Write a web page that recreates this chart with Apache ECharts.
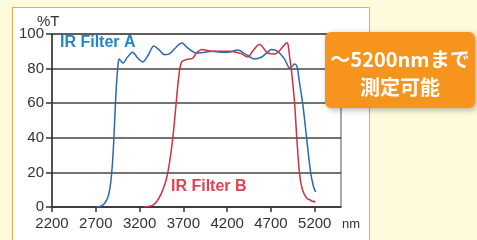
<!DOCTYPE html>
<html>
<head>
<meta charset="utf-8">
<script src="https://cdn.jsdelivr.net/npm/echarts@6/dist/echarts.min.js"></script>
<style>
  html, body { margin: 0; padding: 0; background: #fffadb; }
  #chart { width: 477px; height: 240px; }
</style>
</head>
<body>
<div id="chart"></div>
<script>
// wavelength (nm) / transmittance (%T)
var filterA = [
  [2700, 0], [2750, 0.3], [2800, 2], [2840, 6], [2870, 14], [2890, 25], [2905, 38],
  [2920, 55], [2935, 70], [2950, 80], [2965, 85.5], [2985, 84.5], [3010, 83.2],
  [3060, 86.5], [3120, 89.5], [3180, 86], [3237, 83.8], [3300, 88], [3363, 93],
  [3420, 91], [3488, 88], [3545, 88.6], [3620, 92.5], [3682, 94.8], [3760, 91.5],
  [3850, 89], [3950, 89.5], [4035, 90], [4130, 89.5], [4229, 89.6], [4320, 90.8],
  [4423, 87.9], [4514, 85.5], [4594, 86.7], [4650, 89], [4708, 91], [4776, 90],
  [4856, 85.5], [4913, 80.3], [4945, 81.5], [4970, 82.7], [4990, 82], [5004, 80],
  [5020, 74], [5062, 60], [5107, 40], [5153, 20], [5185, 12], [5210, 8.7]
]
var filterB = [
  [3250, 0], [3300, 0.3], [3350, 1], [3400, 3.5], [3450, 8], [3500, 15], [3530, 22],
  [3560, 32], [3590, 45], [3614, 58], [3640, 72], [3660, 80], [3682, 84], [3720, 85],
  [3760, 85.5], [3807, 86], [3850, 89], [3910, 91], [3970, 90.5], [4035, 90],
  [4130, 90], [4229, 90], [4300, 89.5], [4366, 88.5], [4434, 86.7], [4490, 90],
  [4548, 93.5], [4575, 94], [4620, 91.5], [4662, 89], [4742, 88.4], [4800, 90.5],
  [4850, 93.5], [4880, 95], [4895, 94], [4913, 87], [4936, 78], [4970, 60],
  [4995, 40], [5025, 20], [5060, 10], [5110, 5], [5150, 4], [5175, 3.2], [5190, 3.5],
  [5200, 2.5]
]
var xTicks = [2200, 2700, 3200, 3700, 4200, 4700, 5200]
var seriesNames = ['IR Filter A', 'IR Filter B']

var font = '"Liberation Sans", Arial, sans-serif'
var chart = echarts.init(document.getElementById('chart'))

chart.setOption({
  backgroundColor: '#fffadb',
  animation: false,
  grid: {
    left: 52, top: 34, right: 136, bottom: 33,
    show: true,
    borderColor: '#555',
    borderWidth: 1
  },
  xAxis: {
    type: 'value',
    min: 2200,
    max: 5500,
    axisLine: { lineStyle: { color: '#333', width: 1.5 } },
    axisTick: { customValues: xTicks, length: 5, lineStyle: { color: '#333', width: 1.5 } },
    axisLabel: {
      customValues: xTicks, color: '#333', fontSize: 15, fontFamily: font, margin: 9,
      formatter: function (v) { return String(v) }
    },
    splitLine: { show: false }
  },
  yAxis: {
    type: 'value',
    min: 0,
    max: 100,
    interval: 20,
    axisLine: { show: true, lineStyle: { color: '#333', width: 1.5 } },
    axisTick: { show: true, length: 6, lineStyle: { color: '#333', width: 1.5 } },
    axisLabel: { color: '#333', fontSize: 15, fontFamily: font, margin: 8 },
    splitLine: { lineStyle: { color: '#444', width: 1.5 } }
  },
  graphic: [
    // white panel
    { type: 'rect', z: -10, silent: true,
      shape: { x: 12.5, y: 7.5, width: 357, height: 240 },
      style: { fill: '#fff', stroke: '#f0a656', lineWidth: 1 } },
    { type: 'text', left: 37, top: 14,
      style: { text: '%T', fill: '#333', font: '15px ' + font } },
    { type: 'text', left: 342, top: 218,
      style: { text: 'nm', fill: '#333', font: '13px ' + font } },
    { type: 'text', left: 60, top: 35,
      style: { text: seriesNames[0], fill: '#1f86c8', font: 'bold 16px ' + font } },
    { type: 'text', left: 171, top: 179,
      style: { text: seriesNames[1], fill: '#e2424f', font: 'bold 16px ' + font } },
    // orange callout
    { type: 'rect', z: 100,
      shape: { x: 325, y: 32, width: 150, height: 76, r: 6 },
      style: { fill: '#f7941e', shadowBlur: 6, shadowOffsetX: 2, shadowOffsetY: 2,
        shadowColor: 'rgba(0,0,0,0.3)' } },
    { type: 'text', z: 101, x: 400, y: 59,
      style: { text: '～5200nmまで', fill: '#fff', align: 'center', verticalAlign: 'middle',
        font: 'bold 20px "Noto Sans CJK JP", sans-serif' } },
    { type: 'text', z: 101, x: 400, y: 87,
      style: { text: '測定可能', fill: '#fff', align: 'center', verticalAlign: 'middle',
        font: 'bold 20px "Noto Sans CJK JP", sans-serif' } }
  ],
  series: [
    {
      name: seriesNames[0],
      type: 'line',
      data: filterA,
      smooth: 0.3,
      showSymbol: false,
      lineStyle: { color: '#2a68b0', width: 1.5 }
    },
    {
      name: seriesNames[1],
      type: 'line',
      data: filterB,
      smooth: 0.3,
      showSymbol: false,
      lineStyle: { color: '#cc3340', width: 1.5 }
    }
  ]
})
</script>
</body>
</html>
